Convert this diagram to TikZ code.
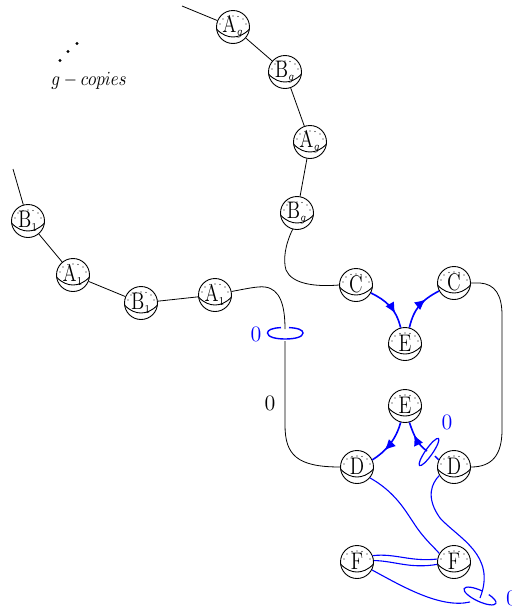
\documentclass[tikz,border=0pt]{standalone}
\usetikzlibrary{arrows.meta,decorations.markings}
\definecolor{lk}{RGB}{0,0,255}
\tikzset{x=0.5pt,y=-0.5pt,
 ball/.style={circle,draw=black,line width=0.45pt,minimum size=33*0.5pt,inner sep=0pt,font=\fontsize{12}{14}\selectfont},
 wire/.style={draw=black,line width=0.4pt},
 blink/.style={draw=lk,line width=0.55pt},
 tlink/.style={draw=lk,line width=0.8pt},
 midarrow/.style={postaction={decorate},decoration={markings,mark=at position #1 with {\arrow{Latex[length=5.5pt,width=5pt]}}}},
 lab/.style={inner sep=0pt,font=\fontsize{11}{13}\selectfont}}
\newcommand{\ballat}[4]{%
 \node[ball] (#1) at (#2,#3) {\raisebox{0.5pt}{\scalebox{0.8}[1]{#4}}};
 \draw[line width=0.45pt,shift={(#1.center)}] (-16.5,2) .. controls (-11,8) and (-5,10) .. (0,10) .. controls (5,10) and (11,8) .. (16.5,2);
 \foreach \dx/\dy in {-13/-3,-10/-8,-5/-10.5,0/-11,5/-10.5,10/-8,13/-3}
  \fill[shift={(#1.center)}] (\dx,\dy) circle[radius=0.55];
}
\newcommand{\subl}[2]{$\mathrm{#1}_{\scriptscriptstyle #2}$}
\begin{document}
\begin{tikzpicture}
\useasboundingbox (0,0) rectangle (511,611);
\ballat{ag2}{233}{27}{\subl{A}{g}}
\ballat{bg2}{285}{72}{\subl{B}{g}}
\ballat{ag1}{310}{142}{\subl{A}{g}}
\ballat{bg1}{297}{213}{\subl{B}{g}}
\ballat{ba}{28}{221}{\subl{B}{1}}
\ballat{aa}{73}{275}{\subl{A}{1}}
\ballat{bb}{141}{303}{\subl{B}{1}}
\ballat{ab}{215}{295}{\subl{A}{1}}
\ballat{cl}{356}{285}{C}
\ballat{cr}{454}{283}{C}
\ballat{et}{405}{344}{E}
\ballat{eb}{405}{406}{E}
\ballat{dl}{357}{467}{D}
\ballat{dr}{454}{467}{D}
\ballat{fl}{357}{562}{F}
\ballat{fr}{454}{562}{F}
\coordinate (top) at (182,6);
\coordinate (left) at (13,169);
\coordinate (ua) at (285,329);
\coordinate (ub) at (285,341);
\path[wire] (top) -- (ag2);
\path[wire] (ag2) -- (bg2);
\path[wire] (bg2) -- (ag1);
\path[wire] (ag1) -- (bg1);
\path[wire] (left) -- (ba);
\path[wire] (ba) -- (aa);
\path[wire] (aa) -- (bb);
\path[wire] (bb) -- (ab);
\path[wire] (ab.12) .. controls (245,289) and (258,286) .. (265,287) .. controls (280,289) and (285,305) .. (ua);
\path[wire] (ub) -- (285,425) .. controls (285,455) and (297,467) .. (dl.west);
\path[wire] (bg1.-105) .. controls (285,245) and (283,260) .. (286,270) .. controls (292,284) and (315,287) .. (cl.west);
\path[wire] (cr.east) -- (480,283) .. controls (495,284) and (502,295) .. (502,315) -- (502,430) .. controls (502,455) and (492,467) .. (dr.east);
\path[tlink,midarrow=0.68] (cl.-28) .. controls (385,300) and (396,308) .. (et.105);
\path[tlink,midarrow=0.68] (et.75) .. controls (414,308) and (422,300) .. (cr.-152);
\path[tlink,midarrow=0.68] (eb.-105) .. controls (396,440) and (385,452) .. (dl.25);
\coordinate (mk) at (427,451);
\path[tlink,midarrow=0.62] (mk) .. controls (418,445) and (414,436) .. (eb.-75);
\coordinate (mk2) at (435,456);
\path[blink,line width=0.7pt] (mk2) -- (dr.155);
\draw[lk,line width=0.7pt] (281,327.6) .. controls (272,328) and (267.5,330) .. (267.5,333) .. controls (267.5,337) and (276,339) .. (285,339) .. controls (295,339) and (303,337) .. (303,333) .. controls (303,330) and (298,328) .. (289,327.6);
\draw[lk,line width=0.6pt,shift={(429,452)},rotate=55] (0,0) ellipse[x radius=8.25pt,y radius=1.8pt];
\node[lab,text=lk] (n0a) at (256,334) {0};
\node[lab] (n0b) at (270,403) {0};
\node[lab,text=lk] (n0c) at (447,422) {0};
\node[lab,text=lk] (n0d) at (511.5,598) {0};
\path[blink] (dl.-40) .. controls (395,492) and (405,510) .. (415,525) .. controls (425,540) and (435,548) .. (fr.150);
\path[blink] (dr.-150) .. controls (432,483) and (425,497) .. (440,518) .. controls (458,538) and (497,555) .. (480,598);
\path[blink] (fl.22) .. controls (395,553) and (410,562) .. (fr.170);
\path[blink] (fl.5) .. controls (395,561) and (410,569) .. (fr.-172);
\path[blink] (fl.-28) .. controls (400,585) and (440,609) .. (470,602);
\draw[lk,line width=0.6pt,shift={(480,596)},rotate=-25] (90:8.75pt and 2.75pt) arc[start angle=90,end angle=425,x radius=8.75pt,y radius=2.75pt];
\fill (60,60.5) circle[radius=1.7];
\fill (68,51.5) circle[radius=1.7];
\fill (77,43.5) circle[radius=1.7];
\node[inner sep=0pt] (cap) at (89,81) {\scalebox{0.85}[1]{$g-copies$}};
\end{tikzpicture}
\end{document}
